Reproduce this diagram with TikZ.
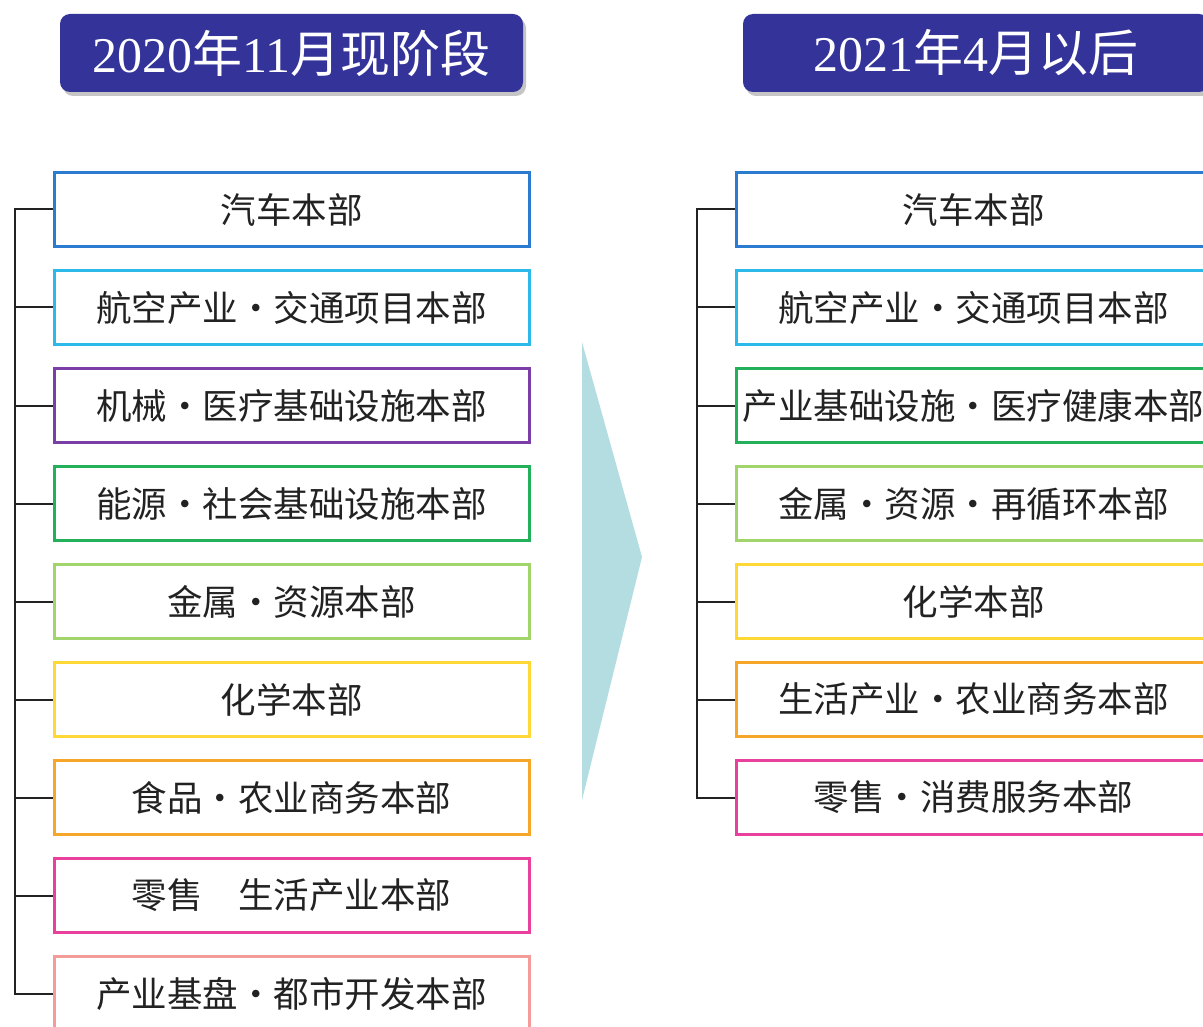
\documentclass[tikz,border=0pt]{standalone}
\usepackage{fontspec}
\setmainfont{Liberation Serif}
\newfontfamily\cjk{Noto Sans CJK SC}
\usetikzlibrary{shadows}
\definecolor{hdrblue}{HTML}{33339A}
\definecolor{cBlue}{HTML}{2B7CD0}
\definecolor{cCyan}{HTML}{2DB8EA}
\definecolor{cPurple}{HTML}{7A3EA6}
\definecolor{cGreen}{HTML}{22B05A}
\definecolor{cLgreen}{HTML}{A2D46C}
\definecolor{cYellow}{HTML}{FFD836}
\definecolor{cOrange}{HTML}{F6A628}
\definecolor{cPink}{HTML}{E8409C}
\definecolor{cSalmon}{HTML}{F49C9A}
\definecolor{cArrow}{HTML}{B4DDE2}
\definecolor{txt}{HTML}{222222}
\begin{document}
\begin{tikzpicture}[x=1pt,y=-1pt,
  box/.style={draw=#1, line width=3pt, fill=white, minimum width=475pt, minimum height=74pt,
    inner sep=0pt, text=txt, font=\cjk\fontsize{35.5}{40}\selectfont},
  hdrbox/.style={fill=hdrblue, rounded corners=10pt, minimum width=463pt, minimum height=78pt,
    inner sep=0pt, text=white, font=\fontsize{50}{58}\selectfont,
    drop shadow={shadow xshift=3pt, shadow yshift=-4pt, fill=black!45, opacity=0.5}},
  tree/.style={line width=2pt, draw=txt}]
\useasboundingbox (0,0) rectangle (1203,1027);
\fill[white] (0,0) rectangle (1203,1027);

% headers
\node[hdrbox] (h1) at (291.5,53) {2020{\cjk 年}11{\cjk 月现阶段}};
\node[hdrbox, minimum width=466pt] (h2) at (976,53) {2021{\cjk 年}4{\cjk 月以后}};

% arrow
\fill[cArrow] (582,342) -- (642,557) -- (582,800) -- cycle;

% left boxes
\node[box=cBlue]   (l1) at (291.5,209.5) {汽车本部};
\node[box=cCyan]   (l2) at (291.5,307.5) {航空产业・交通项目本部};
\node[box=cPurple] (l3) at (291.5,405.5) {机械・医疗基础设施本部};
\node[box=cGreen]  (l4) at (291.5,503.5) {能源・社会基础设施本部};
\node[box=cLgreen] (l5) at (291.5,601.5) {金属・资源本部};
\node[box=cYellow] (l6) at (291.5,699.5) {化学本部};
\node[box=cOrange] (l7) at (291.5,797.5) {食品・农业商务本部};
\node[box=cPink]   (l8) at (291.5,895.5) {零售　生活产业本部};
\node[box=cSalmon] (l9) at (291.5,993.5) {产业基盘・都市开发本部};

% right boxes
\node[box=cBlue]   (r1) at (973.5,209.5) {汽车本部};
\node[box=cCyan]   (r2) at (973.5,307.5) {航空产业・交通项目本部};
\node[box=cGreen]  (r3) at (973.5,405.5) {产业基础设施・医疗健康本部};
\node[box=cLgreen] (r4) at (973.5,503.5) {金属・资源・再循环本部};
\node[box=cYellow] (r5) at (973.5,601.5) {化学本部};
\node[box=cOrange] (r6) at (973.5,699.5) {生活产业・农业商务本部};
\node[box=cPink]   (r7) at (973.5,797.5) {零售・消费服务本部};

% trees
\coordinate (ls) at (15,0);
\coordinate (rs) at (697,0);
\draw[tree] (l1.west) -- (l1.west -| ls) -- (l9.west -| ls) -- (l9.west);
\foreach \i in {2,...,8} \draw[tree] (l\i.west) -- (l\i.west -| ls);
\draw[tree] (r1.west) -- (r1.west -| rs) -- (r7.west -| rs) -- (r7.west);
\foreach \i in {2,...,6} \draw[tree] (r\i.west) -- (r\i.west -| rs);
\end{tikzpicture}
\end{document}
